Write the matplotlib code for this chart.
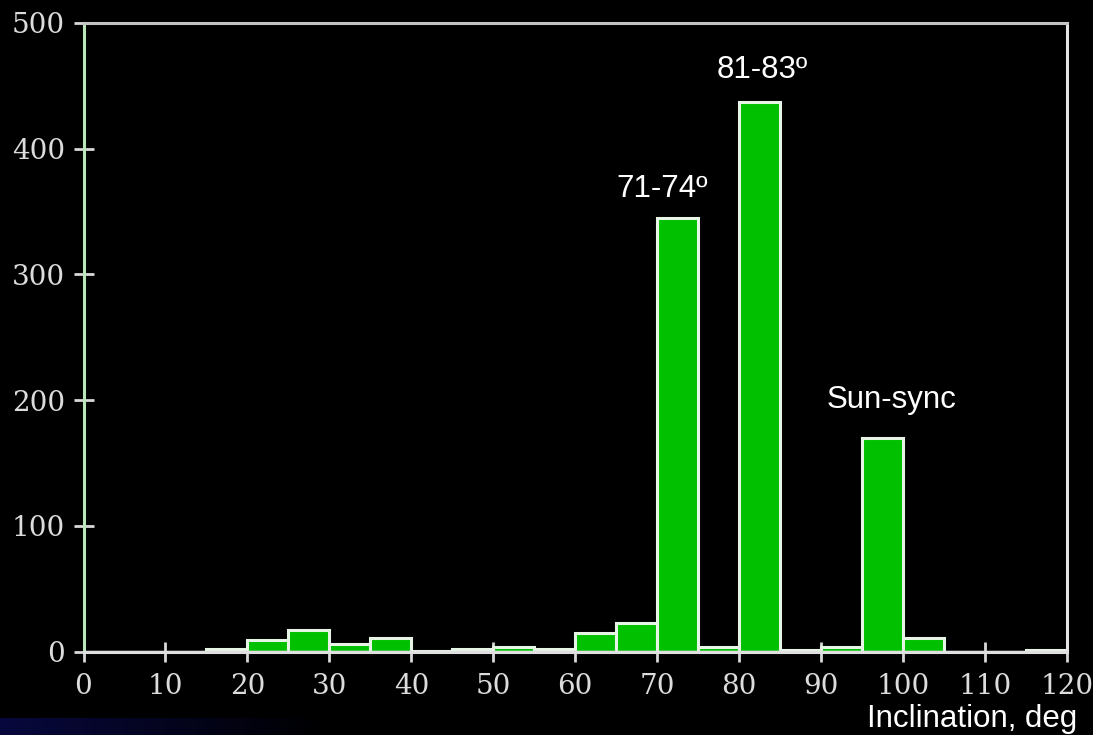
import matplotlib
matplotlib.use("Agg")
import matplotlib.pyplot as plt
import numpy as np

# Data: 5-degree inclination bins
bin_edges = [0, 5, 10, 15, 20, 25, 30, 35, 40, 45, 50, 55, 60, 65, 70, 75, 80, 85, 90, 95, 100, 105, 110, 115, 120]
counts = [0, 0, 0, 2, 9, 17, 6, 11, 0.5, 2, 4, 2, 15, 23, 345, 4, 437, 1, 4, 170, 11, 0, 0, 1]
x_ticks = [0, 10, 20, 30, 40, 50, 60, 70, 80, 90, 100, 110, 120]
y_ticks = [0, 100, 200, 300, 400, 500]
annotations = [("71-74º", 70.6, 361.5, "center"), ("81-83º", 82.8, 456, "center"), ("Sun-sync", 90.7, 193.7, "left")]
x_label = "Inclination, deg"

fig = plt.figure(figsize=(10.93, 7.35), dpi=100, facecolor="black")
ax = fig.add_axes([83.5 / 1093, 1 - 651.7 / 735, (1067 - 83.5) / 1093, (651.7 - 22.7) / 735])
ax.set_facecolor("black")

lefts = bin_edges[:-1]
widths = np.diff(bin_edges)
ax.bar(lefts, counts, width=widths, align="edge", color="#00c000",
       edgecolor="#e6f5e6", linewidth=2.2, zorder=2)
ax.axhline(0, color="#e0e0e0", lw=2.5, zorder=3)

ax.set_xlim(0, 120)
ax.set_ylim(0, 500)
ax.set_xticks(x_ticks)
ax.set_yticks(y_ticks)

for side, col in [("left", "#b8e6b8"), ("top", "#c4c4c4"), ("right", "#e4e4e4"), ("bottom", "#e0e0e0")]:
    ax.spines[side].set_color(col)
    ax.spines[side].set_linewidth(2.2)

ax.tick_params(axis="both", direction="inout", length=14.5, width=2, color="#d8d8d8",
               labelcolor="#dcdcdc", labelsize=20)
ax.tick_params(axis="y", pad=6)
ax.tick_params(axis="x", pad=8)
for lab in ax.get_xticklabels() + ax.get_yticklabels():
    lab.set_fontfamily("DejaVu Serif")

for txt, xv, yv, ha in annotations:
    ax.text(xv, yv, txt, color="white", fontsize=22.5, family="Liberation Sans",
            ha=ha, va="baseline")

fig.text(867 / 1093, 1 - 727 / 735, x_label, color="white", fontsize=22.5,
         family="Liberation Sans", ha="left", va="baseline")

# dark blue decorative band in the lower-left corner
grad = np.linspace(1, 0, 256).reshape(1, -1)
bax = fig.add_axes([0, 0, 330 / 1093, 17 / 735], zorder=-1)
bax.imshow(grad, aspect="auto", cmap=matplotlib.colors.LinearSegmentedColormap.from_list(
    "b", ["#000000", "#08083e"]), extent=[0, 1, 0, 1])
bax.axis("off")

fig.savefig("out.png", dpi=100, facecolor="black")
